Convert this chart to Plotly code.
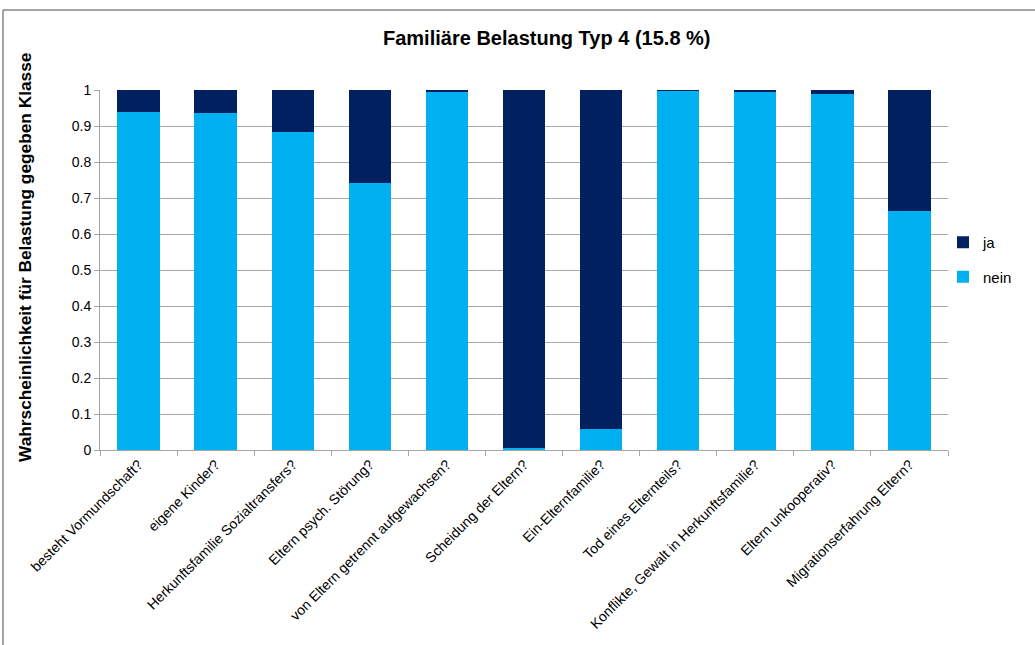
import plotly.graph_objects as go

categories = [
    "besteht Vormundschaft?",
    "eigene Kinder?",
    "Herkunftsfamilie Sozialtransfers?",
    "Eltern psych. Störung?",
    "von Eltern getrennt aufgewachsen?",
    "Scheidung der Eltern?",
    "Ein-Elternfamilie?",
    "Tod eines Elternteils?",
    "Konflikte, Gewalt in Herkunftsfamilie?",
    "Eltern unkooperativ?",
    "Migrationserfahrung Eltern?",
]
nein = [0.940, 0.935, 0.883, 0.742, 0.997, 0.006, 0.058, 0.998, 0.994, 0.988, 0.664]
ja = [round(1 - v, 3) for v in nein]
y_ticks = [0, 0.1, 0.2, 0.3, 0.4, 0.5, 0.6, 0.7, 0.8, 0.9, 1]
y_tick_labels = ["0", "0.1", "0.2", "0.3", "0.4", "0.5", "0.6", "0.7", "0.8", "0.9", "1"]

FONT = "Liberation Sans, Arial, sans-serif"

fig = go.Figure()
fig.add_trace(go.Bar(x=categories, y=nein, name="nein", marker_color="#00B0F0",
                     marker_line_width=0, legendgroup="b", legendrank=2))
fig.add_trace(go.Bar(x=categories, y=ja, name="ja", marker_color="#002060",
                     marker_line_width=0, legendgroup="a", legendrank=1))

L, R, T, B = 100, 87, 90, 195
W, H = 1035, 645
pw, ph = W - L - R, H - T - B

def px(x):
    return (x - L) / pw

def py(y):
    return (H - B - y) / ph

fig.update_layout(
    width=W, height=H,
    margin=dict(l=L, r=R, t=T, b=B, autoexpand=False),
    barmode="stack",
    bargap=0.45,
    plot_bgcolor="white",
    paper_bgcolor="white",
    font=dict(family=FONT, color="#000000", size=14),
    showlegend=True,
    legend=dict(x=px(943), y=py(226), xanchor="left", yanchor="top",
                traceorder="grouped", tracegroupgap=12,
                font=dict(size=15, family=FONT), bgcolor="rgba(0,0,0,0)"),
    xaxis=dict(
        tickangle=-45, tickfont=dict(size=14, family=FONT),
        showline=True, linecolor="#A6A6A6", linewidth=1,
        ticks="outside", tickson="boundaries", ticklen=5, tickcolor="#A6A6A6",
        showgrid=False,
    ),
    yaxis=dict(
        range=[0, 1], tickvals=y_ticks, ticktext=y_tick_labels,
        tickfont=dict(size=14, family=FONT),
        showline=True, linecolor="#A6A6A6", linewidth=1,
        ticks="outside", ticklen=5, tickcolor="#A6A6A6",
        showgrid=True, gridcolor="#A6A6A6", gridwidth=1, zeroline=False,
    ),
    annotations=[
        dict(text="<b>Familiäre Belastung Typ 4 (15.8 %)</b>", xref="paper", yref="paper",
             x=px(547), y=py(38), showarrow=False, font=dict(size=20, family=FONT),
             xanchor="center", yanchor="middle"),
        dict(text="<b>Wahrscheinlichkeit für Belastung gegeben Klasse</b>", xref="paper", yref="paper",
             x=px(25), y=py(257), showarrow=False, textangle=-90, font=dict(size=17.3, family=FONT),
             xanchor="center", yanchor="middle"),
    ],
    shapes=[
        dict(type="line", xref="paper", yref="paper", x0=px(3), x1=px(1035), y0=py(10), y1=py(10),
             line=dict(color="#868686", width=1.5)),
        dict(type="line", xref="paper", yref="paper", x0=px(3), x1=px(3), y0=py(10), y1=py(645),
             line=dict(color="#868686", width=1.5)),
    ],
)

fig.write_html("out.html", config={"displayModeBar": False},
               post_script="document.body.style.margin='0';document.body.style.overflow='hidden';")
